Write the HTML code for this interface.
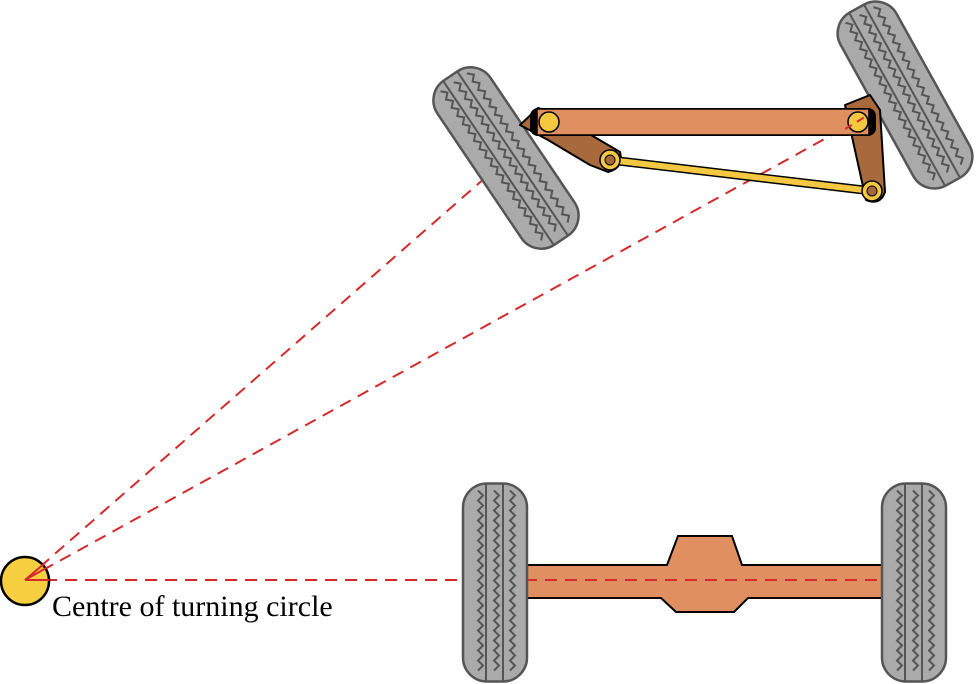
<!DOCTYPE html>
<html><head><meta charset="utf-8"><style>html,body{margin:0;padding:0;background:#fff}svg{display:block}</style></head>
<body>
<svg id="s" width="976" height="684" viewBox="0 0 976 684" xmlns="http://www.w3.org/2000/svg">
<defs>
<g id="tire">
<rect x="-32" y="-99" width="64" height="198" rx="24" fill="#aaa" stroke="#555" stroke-width="2.5"/>
<polyline class="zz" data-x="-17" fill="none" stroke="#555" stroke-width="2"/>
<polyline class="zz" data-x="-1" fill="none" stroke="#555" stroke-width="2"/>
<polyline class="zz" data-x="15" fill="none" stroke="#555" stroke-width="2"/>
<line x1="-9" y1="-98" x2="-9" y2="98" stroke="#555" stroke-width="2"/>
<line x1="8" y1="-98" x2="8" y2="98" stroke="#555" stroke-width="2"/>
</g>
</defs>

<path d="M527,565 H667 L678,536 H732 L742,565 H882 V598 H748 L734,612 H676 L661,598 H527 Z" fill="#e09060" stroke="#000" stroke-width="2"/>

<g stroke="#d42a2a" stroke-width="2" stroke-dasharray="12,8" fill="none">
<line x1="25" y1="580" x2="549" y2="122"/>
<line x1="25" y1="580" x2="868" y2="115"/>
<line x1="25" y1="580" x2="882" y2="580"/>
</g>

<use href="#tire" transform="translate(495,582.5)"/>
<use href="#tire" transform="translate(914,582.5)"/>

<use href="#tire" transform="translate(506,158) rotate(-34)"/>
<use href="#tire" transform="translate(905,95) rotate(-29)"/>
<path d="M520,125 L538,108 L552,112 L620,152 Q624,168 608,172 L590,165 L548,140 Z" fill="#a86a3c" stroke="#000" stroke-width="2" stroke-linejoin="round"/>
<path d="M845,105 L870,95 L880,110 L885,192 Q880,206 866,200 Z" fill="#a86a3c" stroke="#000" stroke-width="2" stroke-linejoin="round"/>
<rect x="530" y="108" width="346" height="28" rx="8" fill="#000"/>
<rect x="537" y="109" width="332" height="26" fill="#e09060" stroke="#000" stroke-width="1.5"/>
<line x1="610" y1="160" x2="872" y2="191" stroke="#000" stroke-width="9" stroke-linecap="round"/>
<line x1="610" y1="160" x2="872" y2="191" stroke="#f5c842" stroke-width="6" stroke-linecap="round"/>
<circle cx="549" cy="122" r="10" fill="#f5c842" stroke="#000" stroke-width="1.5"/>
<circle cx="858" cy="122" r="10" fill="#f5c842" stroke="#000" stroke-width="1.5"/>
<line x1="845" y1="129" x2="868" y2="115" stroke="#d42a2a" stroke-width="2" stroke-dasharray="8,6"/>
<circle cx="610" cy="160" r="10" fill="#f5c842" stroke="#000" stroke-width="1.5"/>
<circle cx="610" cy="160" r="5" fill="#a86a3c" stroke="#000" stroke-width="1"/>
<circle cx="872" cy="191" r="10" fill="#f5c842" stroke="#000" stroke-width="1.5"/>
<circle cx="872" cy="191" r="5" fill="#a86a3c" stroke="#000" stroke-width="1"/>

<circle cx="25" cy="581" r="24" fill="#f5cf40" stroke="#000" stroke-width="2.5"/>
<line x1="25" y1="580" x2="45" y2="563" stroke="#d42a2a" stroke-width="2"/>
<line x1="25" y1="580" x2="48" y2="567" stroke="#d42a2a" stroke-width="2"/>
<line x1="25" y1="580" x2="49" y2="580" stroke="#d42a2a" stroke-width="2"/>
<text x="52" y="616" font-family="Liberation Serif, serif" font-size="30" fill="#000">Centre of turning circle</text>
</svg>
<script>
document.querySelectorAll('.zz').forEach(function(p){
  var x=parseFloat(p.getAttribute('data-x')),pts=[];
  for(var y=-92,i=0;y<=92;y+=5,i++){pts.push((x+(i%2?5:0))+','+y);}
  p.setAttribute('points',pts.join(' '));
});
</script>
</body></html>
